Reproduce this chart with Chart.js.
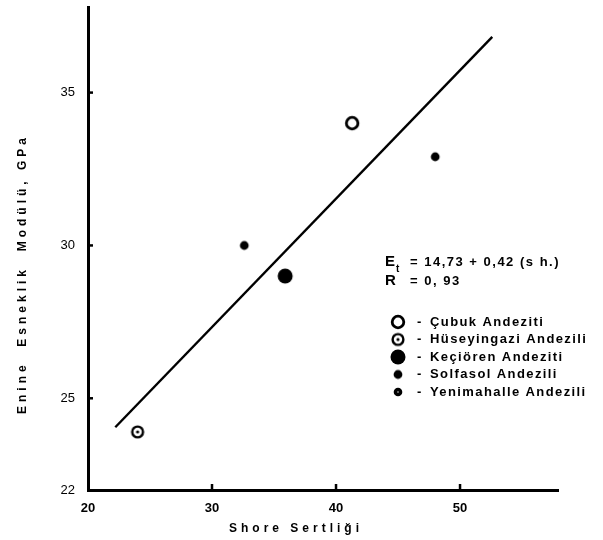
<!DOCTYPE html>
<html>
<head>
<meta charset="utf-8">
<script src="https://cdn.jsdelivr.net/npm/chart.js@4.4.1/dist/chart.umd.min.js"></script>
<style>
  html, body { margin: 0; padding: 0; background: #fff; }
  #wrap { width: 603px; height: 540px; }
</style>
</head>
<body>
<div id="wrap"><canvas id="chart" width="603" height="540"></canvas></div>
<script>
// axis ticks
const shoreTicks = [20, 30, 40, 50];
const modulusTicks = [22, 25, 30, 35];

// measurements per andesite site (Shore hardness, modulus GPa)
const cubukX = [41.3], cubukY = [34.0];
const huseyinX = [24.0], huseyinY = [23.9];
const keciorenX = [35.9], keciorenY = [29.0];
const solfasolX = [32.6], solfasolY = [30.0];
const yenimahalleX = [48.0], yenimahalleY = [32.9];

// regression Et = 14,73 + 0,42 (s.h.)
const fitIntercept = 14.73;
const fitSlope = 0.42;
const fitRangeX = [22.2, 52.6];

const siteNames = ['Çubuk Andeziti', 'Hüseyingazi Andezili', 'Keçiören Andeziti', 'Solfasol Andezili', 'Yenimahalle Andezili'];
const eqLines = [['E', 't', '= 14,73 + 0,42 (s h.)'], ['R', '', '= 0, 93']];

const FONT = '"Liberation Sans", Arial, sans-serif';

// little canvas markers, used for points and legend alike
function makeMarker(kind) {
  const c = document.createElement('canvas');
  c.width = 20; c.height = 20;
  const g = c.getContext('2d');
  g.fillStyle = '#000'; g.strokeStyle = '#000';
  const circle = (r) => { g.beginPath(); g.arc(10, 10, r, 0, Math.PI * 2); };
  if (kind === 'ring') {
    circle(5.8); g.fillStyle = '#fff'; g.fill(); g.lineWidth = 2.8; g.stroke();
  } else if (kind === 'bull') {
    circle(5.4); g.fillStyle = '#fff'; g.fill(); g.lineWidth = 2.4; g.stroke();
    circle(1.6); g.fillStyle = '#000'; g.fill();
  } else if (kind === 'big') {
    circle(7.5); g.fill();
  } else if (kind === 'dot') {
    circle(4.4); g.fill();
  } else if (kind === 'dotc') {
    circle(4.3); g.fill();
    circle(0.7); g.fillStyle = '#fff'; g.fill();
  }
  return c;
}
const markers = [makeMarker('ring'), makeMarker('bull'), makeMarker('big'), makeMarker('dot'), makeMarker('dotc')];

function pts(xs, ys) { return xs.map((x, i) => ({ x, y: ys[i] })); }

const fitLine = fitRangeX.map(x => ({ x, y: fitIntercept + fitSlope * x }));

const seriesX = [cubukX, huseyinX, keciorenX, solfasolX, yenimahalleX];
const seriesY = [cubukY, huseyinY, keciorenY, solfasolY, yenimahalleY];

const datasets = siteNames.map((name, i) => ({
  type: 'scatter',
  label: name,
  data: pts(seriesX[i], seriesY[i]),
  pointStyle: i === 4 ? markers[3] : markers[i],
  pointRadius: 6,
  pointHoverRadius: 6
}));
datasets.push({
  type: 'line',
  label: 'fit',
  data: fitLine,
  borderColor: '#000',
  borderWidth: 2.4,
  pointRadius: 0,
  fill: false
});

// inward tick marks, axis titles, equation and key
const decorations = {
  id: 'decorations',
  afterDraw(chart) {
    const { ctx, scales: { x, y }, chartArea } = chart;
    ctx.save();
    ctx.strokeStyle = '#000';
    ctx.lineWidth = 2.5;
    modulusTicks.slice(1).forEach(v => {
      const py = y.getPixelForValue(v);
      ctx.beginPath(); ctx.moveTo(chartArea.left, py); ctx.lineTo(chartArea.left + 5, py); ctx.stroke();
    });
    shoreTicks.slice(1).forEach(v => {
      const px = x.getPixelForValue(v);
      ctx.beginPath(); ctx.moveTo(px, chartArea.bottom); ctx.lineTo(px, chartArea.bottom - 6); ctx.stroke();
    });

    ctx.fillStyle = '#000';
    ctx.textAlign = 'center';
    ctx.textBaseline = 'middle';
    ctx.font = 'bold 12px ' + FONT;
    ctx.letterSpacing = '4px';
    ctx.fillText('Shore Sertliği', 296, 529);
    ctx.save();
    ctx.translate(23, 274);
    ctx.rotate(-Math.PI / 2);
    ctx.fillText('Enine  Esneklik  Modülü, GPa', 0, 0);
    ctx.restore();

    ctx.textAlign = 'left';
    eqLines.forEach((ln, i) => {
      const ty = 262 + i * 19;
      ctx.letterSpacing = '0px';
      ctx.font = 'bold 15px ' + FONT;
      ctx.fillText(ln[0], 385, ty);
      if (ln[1]) { ctx.font = 'bold 10px ' + FONT; ctx.fillText(ln[1], 396, ty + 7); }
      ctx.letterSpacing = '1.5px';
      ctx.font = 'bold 13px ' + FONT;
      ctx.fillText(ln[2], 410, ty);
    });

    ctx.letterSpacing = '1.4px';
    siteNames.forEach((name, i) => {
      const ty = 322 + i * 17.5;
      ctx.drawImage(markers[i], 398 - 10, ty - 10);
      ctx.font = 'bold 13px ' + FONT;
      ctx.fillText('-', 417, ty);
      ctx.fillText(name, 430, ty);
    });
    ctx.restore();
  }
};

new Chart(document.getElementById('chart'), {
  type: 'scatter',
  data: { datasets },
  options: {
    responsive: false,
    animation: false,
    devicePixelRatio: 1,
    layout: { padding: { top: 5, right: 45, bottom: 0, left: 0 } },
    plugins: { legend: { display: false }, tooltip: { enabled: false } },
    scales: {
      x: {
        type: 'linear', min: 20, max: 57.9,
        afterBuildTicks: s => { s.ticks = shoreTicks.map(v => ({ value: v })); },
        afterFit: s => { s.height = 50; s.paddingLeft = 0; s.paddingRight = 0; },
        grid: { display: false, drawTicks: false },
        border: { display: true, color: '#000', width: 3 },
        ticks: { color: '#000', padding: 11, font: { family: FONT, size: 13, weight: 'bold' } }
      },
      y: {
        type: 'linear', min: 22, max: 37.8,
        afterBuildTicks: s => { s.ticks = modulusTicks.map(v => ({ value: v })); },
        afterFit: s => { s.width = 88; s.paddingTop = 0; s.paddingBottom = 0; },
        grid: { display: false, drawTicks: false },
        border: { display: true, color: '#000', width: 3 },
        ticks: { color: '#000', padding: 13, font: { family: FONT, size: 13 } }
      }
    }
  },
  plugins: [decorations]
});
</script>
</body>
</html>
